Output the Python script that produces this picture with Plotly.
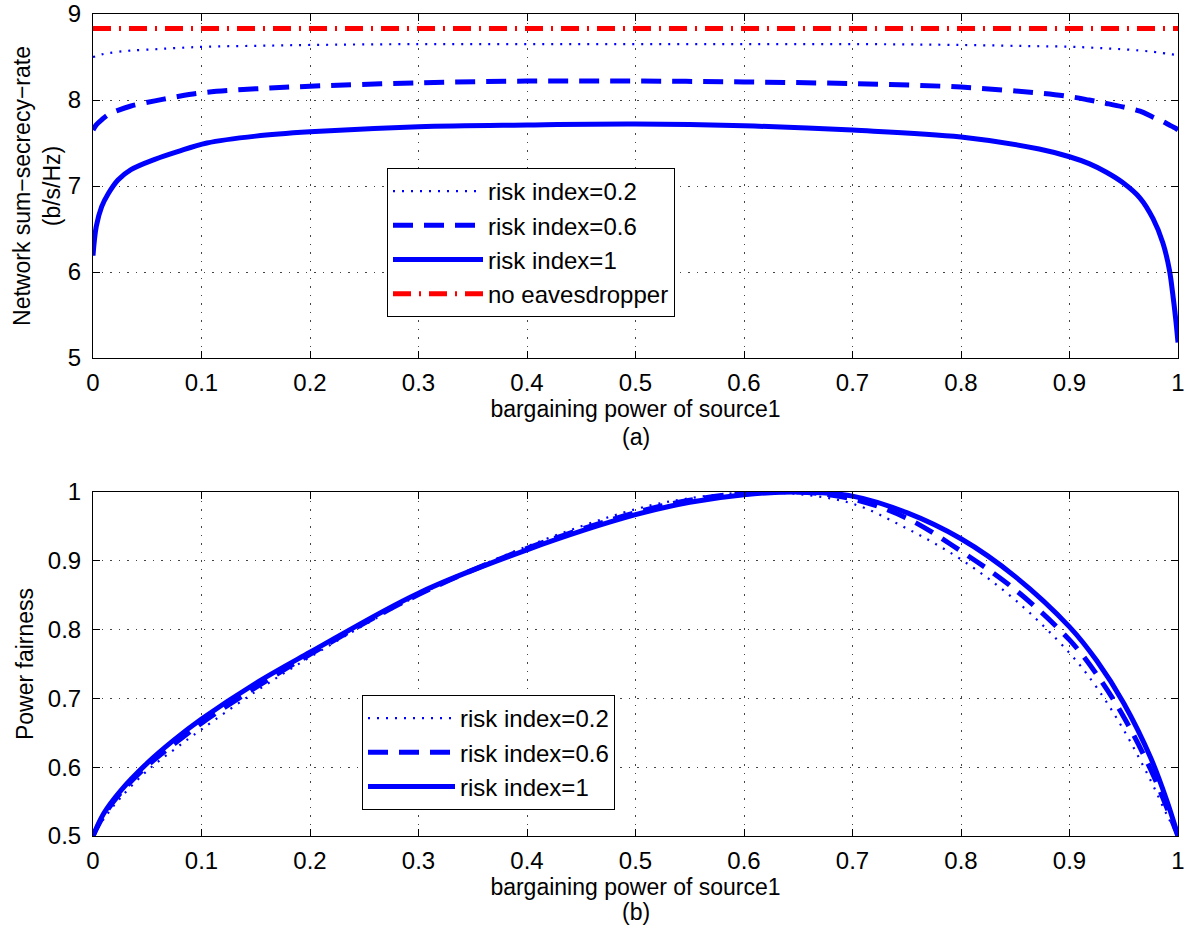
import plotly.graph_objects as go

# ---------------- data ----------------
# Panel (a): network sum-secrecy-rate vs bargaining power of source1
x_a = [0, 0.003, 0.008, 0.014, 0.023, 0.035, 0.057, 0.078, 0.105, 0.15, 0.2, 0.3, 0.4,
       0.5, 0.6, 0.7, 0.8, 0.872, 0.9, 0.918, 0.934, 0.949, 0.965, 0.977, 0.986, 0.992,
       0.995, 0.998, 1.0]
rate_r02 = [8.50, 8.51, 8.53, 8.545, 8.56, 8.575, 8.59, 8.605, 8.62, 8.63, 8.64, 8.65, 8.65,
            8.65, 8.65, 8.65, 8.64, 8.625, 8.62, 8.61, 8.60, 8.59, 8.575, 8.56, 8.545, 8.535,
            8.53, 8.525, 8.52]
rate_r06 = [7.65, 7.71, 7.77, 7.83, 7.88, 7.93, 7.99, 8.04, 8.09, 8.13, 8.16, 8.20, 8.22,
            8.22, 8.21, 8.19, 8.15, 8.08, 8.04, 8.00, 7.96, 7.92, 7.87, 7.80, 7.75, 7.71,
            7.69, 7.67, 7.65]
rate_r1 = [6.19, 6.53, 6.76, 6.91, 7.07, 7.19, 7.31, 7.40, 7.50, 7.58, 7.63, 7.69, 7.71,
           7.72, 7.70, 7.65, 7.57, 7.43, 7.34, 7.26, 7.16, 7.04, 6.86, 6.62, 6.34, 6.03,
           5.76, 5.44, 5.18]
rate_noeve = [8.83] * len(x_a)

# Panel (b): power fairness vs bargaining power of source1
x_b = [0, 0.01, 0.025, 0.05, 0.075, 0.1, 0.15, 0.2, 0.3, 0.4, 0.5, 0.55, 0.6, 0.65,
       0.7, 0.75, 0.8, 0.85, 0.9, 0.925, 0.95, 0.975, 0.99, 1.0]
fair_r02 = [0.50, 0.525, 0.555, 0.595, 0.626, 0.655, 0.710, 0.760, 0.850, 0.921, 0.975,
            0.991, 0.999, 0.997, 0.983, 0.947, 0.902, 0.843, 0.766, 0.716, 0.654, 0.580, 0.530, 0.50]
fair_r06 = [0.50, 0.530, 0.562, 0.602, 0.634, 0.664, 0.716, 0.764, 0.851, 0.918, 0.970,
            0.988, 0.998, 1.000, 0.990, 0.962, 0.914, 0.858, 0.785, 0.735, 0.673, 0.596, 0.540, 0.50]
fair_r1 = [0.50, 0.533, 0.565, 0.606, 0.640, 0.670, 0.722, 0.767, 0.853, 0.916, 0.967,
           0.985, 0.996, 1.000, 0.994, 0.970, 0.932, 0.877, 0.804, 0.755, 0.693, 0.613, 0.550, 0.50]

x_ticks = [0, 0.1, 0.2, 0.3, 0.4, 0.5, 0.6, 0.7, 0.8, 0.9, 1]
x_tick_labels = ["0", "0.1", "0.2", "0.3", "0.4", "0.5", "0.6", "0.7", "0.8", "0.9", "1"]
ya_ticks = [5, 6, 7, 8, 9]
yb_ticks = [0.5, 0.6, 0.7, 0.8, 0.9, 1]
yb_tick_labels = ["0.5", "0.6", "0.7", "0.8", "0.9", "1"]

names = ["risk index=0.2", "risk index=0.6", "risk index=1", "no eavesdropper"]

# ---------------- styling ----------------
FONT = "Liberation Sans, Arial, Helvetica, sans-serif"
BLUE = "#0000FF"
RED = "#FF0000"
dot_style = dict(color=BLUE, width=2.2, dash="2px,7px")
dash_style = dict(color=BLUE, width=5, dash="20px,11px")
solid_style = dict(color=BLUE, width=5)
dashdot_style = dict(color=RED, width=5, dash="18px,8px,2px,8px")

fig = go.Figure()

# Panel (a)
fig.add_trace(go.Scatter(x=x_a, y=rate_r02, mode="lines", name=names[0], line=dot_style,
                         line_shape="spline", xaxis="x", yaxis="y", legend="legend"))
fig.add_trace(go.Scatter(x=x_a, y=rate_r06, mode="lines", name=names[1], line=dash_style,
                         line_shape="spline", xaxis="x", yaxis="y", legend="legend"))
fig.add_trace(go.Scatter(x=x_a, y=rate_r1, mode="lines", name=names[2], line=solid_style,
                         line_shape="spline", xaxis="x", yaxis="y", legend="legend"))
fig.add_trace(go.Scatter(x=x_a, y=rate_noeve, mode="lines", name=names[3], line=dashdot_style,
                         xaxis="x", yaxis="y", legend="legend"))

# Panel (b)
fig.add_trace(go.Scatter(x=x_b, y=fair_r02, mode="lines", name=names[0], line=dot_style,
                         line_shape="spline", xaxis="x2", yaxis="y2", legend="legend2"))
fig.add_trace(go.Scatter(x=x_b, y=fair_r06, mode="lines", name=names[1], line=dash_style,
                         line_shape="spline", xaxis="x2", yaxis="y2", legend="legend2"))
fig.add_trace(go.Scatter(x=x_b, y=fair_r1, mode="lines", name=names[2], line=solid_style,
                         line_shape="spline", xaxis="x2", yaxis="y2", legend="legend2"))

W, H = 1200, 937
L, R = 93, 1178
TOP_A, BOT_A = 14, 358
TOP_B, BOT_B = 492, 836

axis_common = dict(
    showline=True, linecolor="black", linewidth=1, mirror="ticks",
    ticks="inside", ticklen=7, tickwidth=1, tickcolor="black",
    showgrid=True, gridcolor="#444444", gridwidth=1, griddash="1.5px,7px",
    zeroline=False, tickfont=dict(family=FONT, size=24, color="black"),
    automargin=False, ticklabeloverflow="allow",
)

fig.update_layout(
    width=W, height=H,
    margin=dict(l=0, r=0, t=0, b=0, autoexpand=False),
    paper_bgcolor="white", plot_bgcolor="white",
    font=dict(family=FONT, color="black"),
    xaxis=dict(domain=[L / W, R / W], anchor="y", range=[0, 1],
               tickvals=x_ticks, ticktext=x_tick_labels, ticklabelstandoff=3,
               title=dict(text="bargaining power of source1", font=dict(size=23), standoff=0),
               **axis_common),
    yaxis=dict(domain=[1 - BOT_A / H, 1 - TOP_A / H], anchor="x", range=[5, 9],
               tickvals=ya_ticks, ticklabelstandoff=6,
               title=dict(text="Network sum\u2212secrecy\u2212rate<br>(b/s/Hz)",
                          font=dict(size=23), standoff=0),
               **axis_common),
    xaxis2=dict(domain=[L / W, R / W], anchor="y2", range=[0, 1],
                tickvals=x_ticks, ticktext=x_tick_labels, ticklabelstandoff=3,
                title=dict(text="bargaining power of source1", font=dict(size=23), standoff=0),
                **axis_common),
    yaxis2=dict(domain=[1 - BOT_B / H, 1 - TOP_B / H], anchor="x2", range=[0.5, 1],
                tickvals=yb_ticks, ticktext=yb_tick_labels, ticklabelstandoff=6,
                title=dict(text="Power fairness", font=dict(size=23), standoff=7),
                **axis_common),
    legend=dict(x=387 / W, y=1 - 168 / H, xanchor="left", yanchor="top",
                bgcolor="white", bordercolor="black", borderwidth=1,
                font=dict(family=FONT, size=24, color="black"), itemwidth=90),
    legend2=dict(x=362 / W, y=1 - 695 / H, xanchor="left", yanchor="top",
                 bgcolor="white", bordercolor="black", borderwidth=1,
                 font=dict(family=FONT, size=24, color="black"), itemwidth=87),
    showlegend=True,
    annotations=[
        dict(text="(a)", x=0.5 * (L + R) / W, y=1 - 437 / H, xref="paper", yref="paper",
             xanchor="center", yanchor="middle",
             showarrow=False, font=dict(family=FONT, size=23, color="black")),
        dict(text="(b)", x=0.5 * (L + R) / W, y=1 - 912 / H, xref="paper", yref="paper",
             xanchor="center", yanchor="middle",
             showarrow=False, font=dict(family=FONT, size=23, color="black")),
    ],
)

# remove the browser's default 8px body margin so the figure sits at the page origin
fig.write_html("out.html", config={"displayModeBar": False},
               post_script="document.body.style.margin='0px';")
